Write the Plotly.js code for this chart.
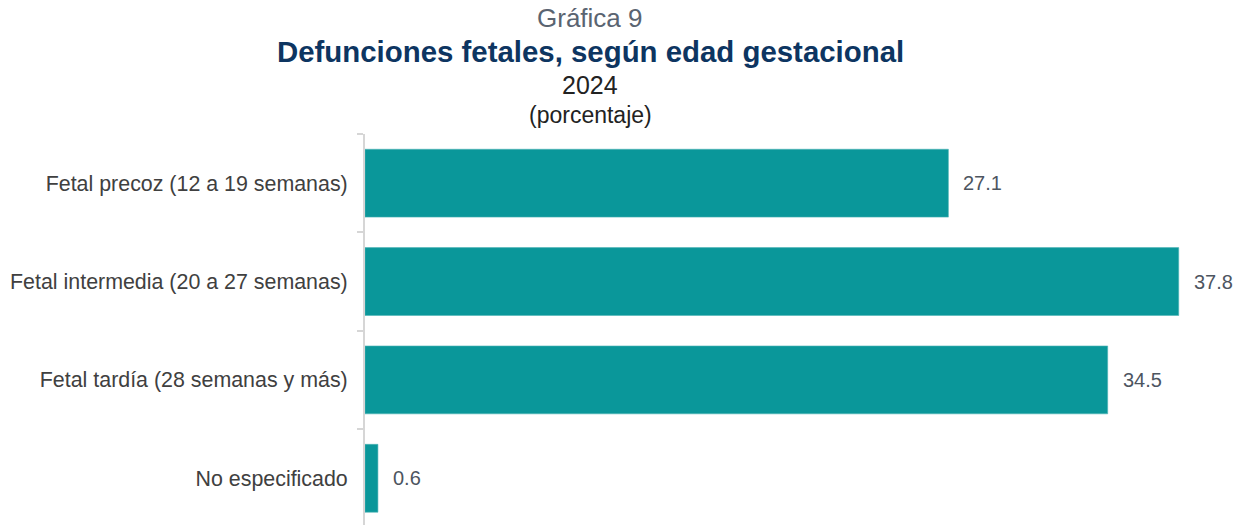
<!DOCTYPE html>
<html>
<head>
<meta charset="utf-8">
<script src="https://cdn.plot.ly/plotly-3.0.1.min.js"></script>
<style>html,body{margin:0;padding:0;background:#fff;}#chart{width:1243px;height:525px;}</style>
</head>
<body>
<div id="chart"></div>
<script>
const categories = [
  "Fetal precoz (12 a 19 semanas)",
  "Fetal intermedia (20 a 27 semanas)",
  "Fetal tardía (28 semanas y más)",
  "No especificado"
];
const values = [27.1, 37.8, 34.5, 0.6];
const valueLabels = ["27.1", "37.8", "34.5", "0.6"];

const titleLines = [
  {text: "Gráfica 9", py: 18, size: 26, color: "#5a6471", bold: false},
  {text: "Defunciones fetales, según edad gestacional", py: 52, size: 29.4, color: "#0d3561", bold: true},
  {text: "2024", py: 85, size: 25, color: "#222222", bold: false},
  {text: "(porcentaje)", py: 115, size: 23, color: "#222222", bold: false}
];

const W = 1243, H = 525;
const mL = 365, mR = 18, mT = 134, mB = 0;
const plotW = W - mL - mR, plotH = H - mT - mB;
const centerX = 590;

const annotations = [];
titleLines.forEach(l => {
  annotations.push({
    xref: "paper", yref: "paper",
    x: (centerX - mL) / plotW, y: (H - mB - l.py) / plotH,
    xanchor: "center", yanchor: "middle",
    showarrow: false,
    text: l.bold ? "<b>" + l.text + "</b>" : l.text,
    font: {family: "Liberation Sans, Arial, sans-serif", size: l.size, color: l.color}
  });
});
values.forEach((v, i) => {
  annotations.push({
    xref: "x", yref: "y", x: v, y: categories[i],
    xanchor: "left", yanchor: "middle", xshift: 13,
    showarrow: false, text: valueLabels[i],
    font: {family: "Liberation Sans, Arial, sans-serif", size: 20, color: "#4d555f"}
  });
});

const trace = {
  type: "bar", orientation: "h",
  x: values, y: categories,
  width: 0.69,
  marker: {color: "#0a979a", line: {color: "#4fb3b5", width: 0.6}},
  hoverinfo: "skip"
};

const layout = {
  width: W, height: H,
  margin: {l: mL, r: mR, t: mT, b: mB, pad: 0},
  paper_bgcolor: "#ffffff", plot_bgcolor: "#ffffff",
  showlegend: false,
  font: {family: "Liberation Sans, Arial, sans-serif"},
  xaxis: {range: [0, 39.95], visible: false, showgrid: false, zeroline: false},
  yaxis: {
    type: "category",
    categoryorder: "array", categoryarray: categories,
    range: [3.475, -0.5],
    showline: true, linecolor: "#d6d6d6", linewidth: 2,
    ticks: "outside", tickson: "boundaries", ticklen: 6, tickcolor: "#d6d6d6", tickwidth: 2,
    ticklabelstandoff: 11,
    tickfont: {family: "Liberation Sans, Arial, sans-serif", size: 21.4, color: "#404040"},
    showgrid: false, zeroline: false
  },
  annotations: annotations
};

Plotly.newPlot("chart", [trace], layout, {displayModeBar: false, staticPlot: true});
</script>
</body>
</html>
